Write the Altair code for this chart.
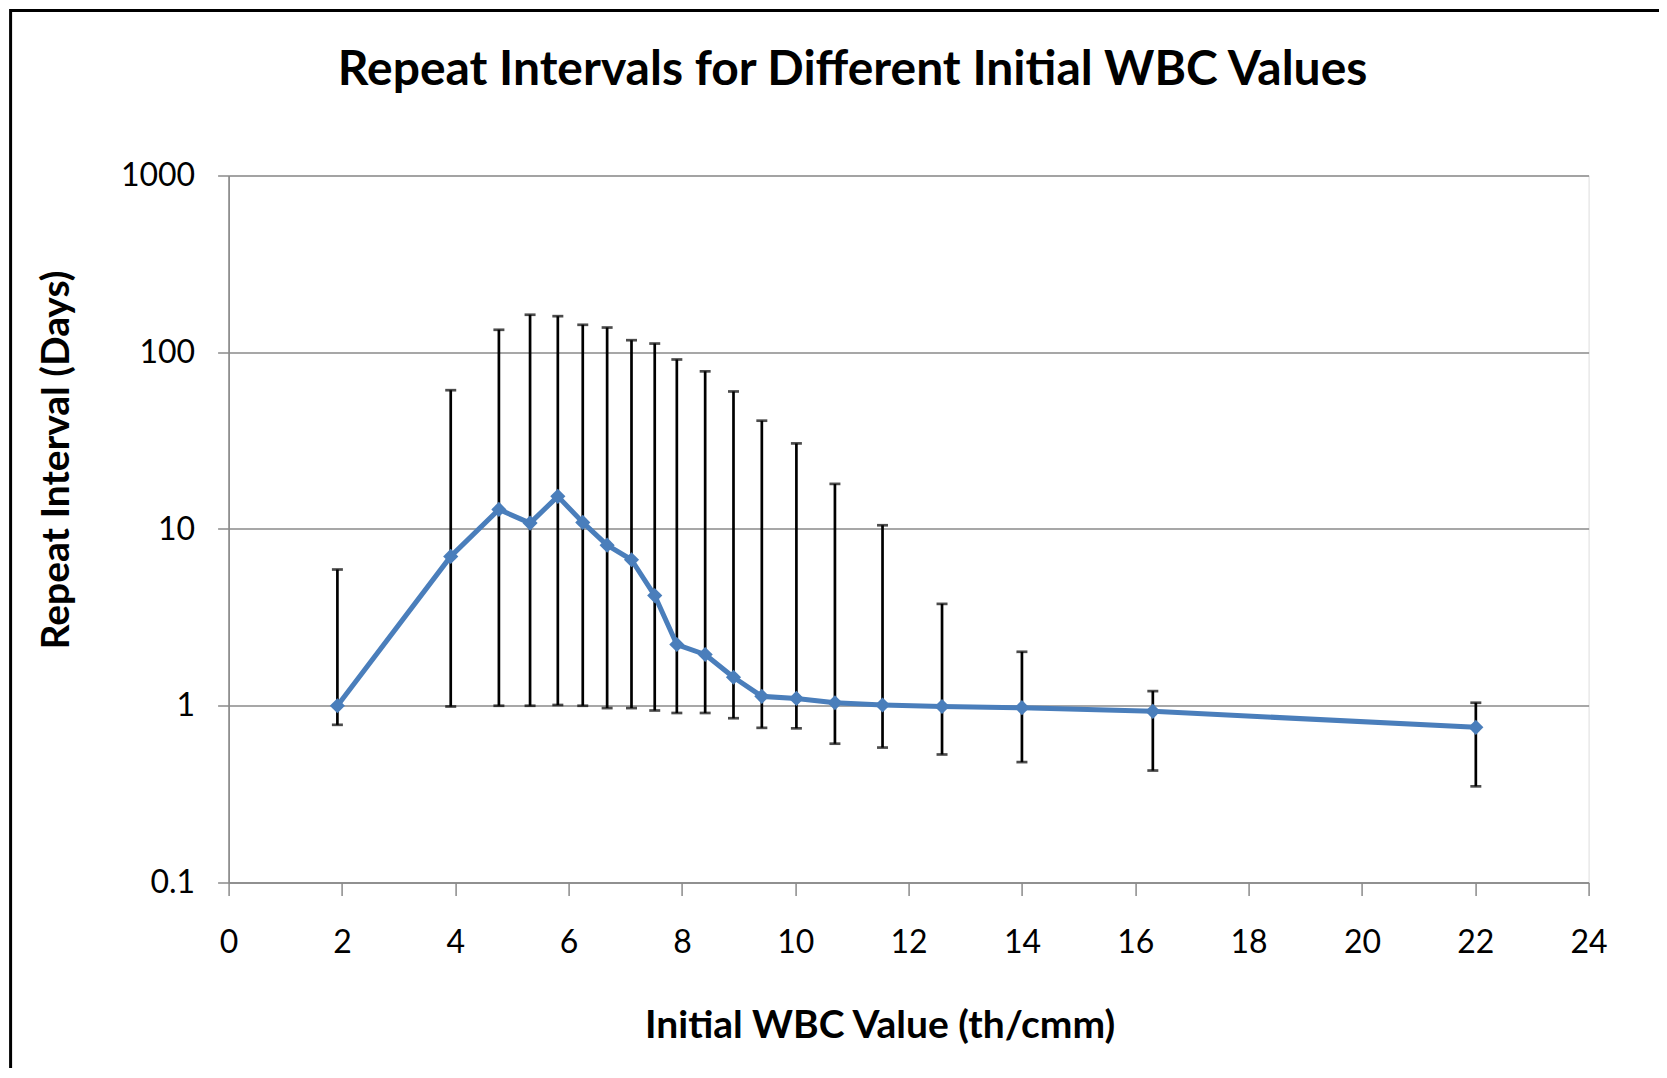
import altair as alt
import pandas as pd

wbc = [1.92, 3.92, 4.77, 5.32, 5.81, 6.25, 6.68, 7.11, 7.52, 7.91,
       8.41, 8.91, 9.41, 10.02, 10.70, 11.54, 12.59, 14.0, 16.31, 22.01]
interval = [1.0, 7.0, 12.9, 10.8, 15.3, 10.9, 8.1, 6.7, 4.2, 2.22,
            1.95, 1.45, 1.13, 1.10, 1.04, 1.01, 0.99, 0.975, 0.93, 0.755]
err_hi = [5.9, 61, 134, 163, 160, 143, 138, 117, 112, 91,
          78, 60, 41, 30.5, 18, 10.5, 3.77, 2.02, 1.21, 1.04]
err_lo = [0.78, 0.99, 1.0, 1.0, 1.01, 1.0, 0.97, 0.97, 0.94, 0.91,
          0.91, 0.85, 0.75, 0.745, 0.61, 0.58, 0.53, 0.48, 0.43, 0.35]

x_ticks = list(range(0, 25, 2))
y_ticks = [0.1, 1, 10, 100, 1000]

df = pd.DataFrame({"wbc": wbc, "interval": interval, "hi": err_hi, "lo": err_lo})

FONT = "Lato"
GRID = "#8a8a8a"

xscale = alt.Scale(domain=[0, 24], nice=False, zero=False)
yscale = alt.Scale(type="log", domain=[0.1, 1000], nice=False)

xaxis = alt.Axis(
    values=x_ticks, format="d", grid=False, title="Initial WBC Value (th/cmm)",
    domainColor=GRID, domainWidth=1.7, tickColor=GRID, tickWidth=1.5, tickSize=13,
    labelFont=FONT, labelFontSize=32, labelColor="#000000", labelPadding=32,
    labelFlush=False, labelOverlap=False,
    titleFont=FONT, titleFontSize=39, titleFontWeight="bold", titleColor="#000000",
    titleX=651, titleY=143, titleAlign="center", titleBaseline="middle",
)
yaxis = alt.Axis(
    values=y_ticks, format="~g", grid=True, gridColor=GRID, gridWidth=1.5,
    title="Repeat Interval (Days)",
    domainColor=GRID, domainWidth=1.7, tickColor=GRID, tickWidth=1.5, tickSize=11,
    labelFont=FONT, labelFontSize=32, labelColor="#000000", labelPadding=23,
    labelFlush=False, labelOverlap=False,
    titleFont=FONT, titleFontSize=39, titleFontWeight="bold", titleColor="#000000",
    titleX=-172, titleY=284, titleAlign="center", titleBaseline="middle", titleAngle=270,
)

base = alt.Chart(df)

rules = base.mark_rule(color="#000000", strokeWidth=2.7).encode(
    x=alt.X("wbc:Q", scale=xscale, axis=xaxis),
    y=alt.Y("lo:Q", scale=yscale, axis=yaxis),
    y2="hi:Q",
)
caps_hi = base.mark_tick(color="#000000", orient="horizontal", size=11, thickness=2.7).encode(
    x=alt.X("wbc:Q", scale=xscale), y=alt.Y("hi:Q", scale=yscale)
)
caps_lo = base.mark_tick(color="#000000", orient="horizontal", size=11, thickness=2.7).encode(
    x=alt.X("wbc:Q", scale=xscale), y=alt.Y("lo:Q", scale=yscale)
)
line = base.mark_line(
    color="#4a7ebb", strokeWidth=5, strokeJoin="round",
).encode(
    x=alt.X("wbc:Q", scale=xscale), y=alt.Y("interval:Q", scale=yscale)
)
points = base.mark_point(
    shape="diamond", size=230, filled=True, color="#4a7ebb", opacity=1
).encode(
    x=alt.X("wbc:Q", scale=xscale), y=alt.Y("interval:Q", scale=yscale)
)

frame = alt.Chart(pd.DataFrame({"k": [0]})).mark_rect(
    fill=None, stroke="#000000", strokeWidth=3
).encode(
    x=alt.value(-218), x2=alt.value(1600), y=alt.value(-165), y2=alt.value(1200)
)

chart = alt.layer(frame, rules, caps_hi, caps_lo, line, points).properties(
    width=1360, height=707,
    title=alt.TitleParams(
        "Repeat Intervals for Different Initial WBC Values",
        font=FONT, fontSize=48, fontWeight="bold", color="#000000",
        anchor="middle", dx=-56, offset=0, dy=110, baseline="middle",
    ),
    autosize=alt.AutoSizeParams(type="none"),
    padding={"left": 220.6, "top": 167.5, "right": 70, "bottom": 185},
).configure_view(stroke=None).configure(background="#ffffff")

chart.save("out.html", embed_options={"renderer": "svg", "actions": False})
